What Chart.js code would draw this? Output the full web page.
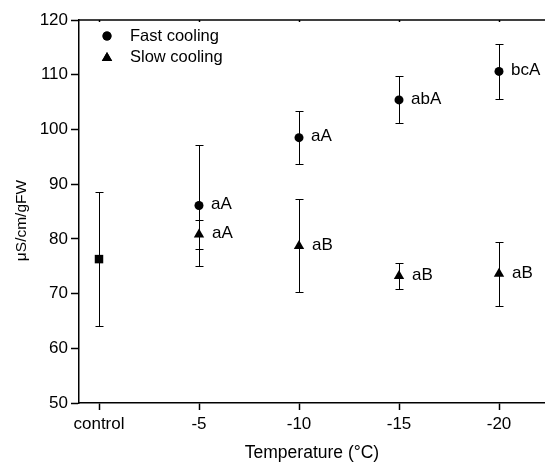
<!DOCTYPE html>
<html>
<head>
<meta charset="utf-8">
<script src="https://cdn.jsdelivr.net/npm/chart.js@4/dist/chart.umd.min.js"></script>
<style>
  html, body { margin: 0; padding: 0; background: #fff; }
</style>
</head>
<body>
<canvas id="graphCanvas" width="545" height="462"></canvas>
<script>
// data
const categories = ['control', '-5', '-10', '-15', '-20'];
const controlMean = [76.3];
const controlErr = [12.3];
const fastMean = [86.1, 98.5, 105.4, 110.6];
const fastErr = [11.1, 4.9, 4.3, 5.1];
const fastLetters = ['aA', 'aA', 'abA', 'bcA'];
const slowMean = [80.8, 78.7, 73.2, 73.6];
const slowErr = [2.7, 8.5, 2.4, 5.9];
const slowLetters = ['aA', 'aB', 'aB', 'aB'];
const yTicks = [50, 60, 70, 80, 90, 100, 110, 120];

const FONT = "'Liberation Sans', Arial, sans-serif";

// control sits at x = 0, the temperatures at 1..4
const controlPts = controlMean.map((v, i) => ({x: i, y: v}));
const fastPts = fastMean.map((v, i) => ({x: i + 1, y: v}));
const slowPts = slowMean.map((v, i) => ({x: i + 1, y: v}));

const extras = {
    id: 'extras',
    beforeDatasetsDraw(chart) {
        const ctx = chart.ctx;
        const xs = chart.scales.x, ys = chart.scales.y;
        ctx.save();
        ctx.strokeStyle = '#000';
        ctx.lineWidth = 1;
        const bar = (xv, m, e) => {
            const x = Math.round(xs.getPixelForValue(xv)) + 0.5;
            const y1 = Math.round(ys.getPixelForValue(m + e)) + 0.5;
            const y2 = Math.round(ys.getPixelForValue(m - e)) + 0.5;
            ctx.beginPath();
            ctx.moveTo(x, y1); ctx.lineTo(x, y2);
            ctx.moveTo(x - 4, y1); ctx.lineTo(x + 4, y1);
            ctx.moveTo(x - 4, y2); ctx.lineTo(x + 4, y2);
            ctx.stroke();
        };
        controlMean.forEach((m, i) => bar(i, m, controlErr[i]));
        fastMean.forEach((m, i) => bar(i + 1, m, fastErr[i]));
        slowMean.forEach((m, i) => bar(i + 1, m, slowErr[i]));
        ctx.restore();
    },
    afterDatasetsDraw(chart) {
        const ctx = chart.ctx;
        const xs = chart.scales.x, ys = chart.scales.y;
        const area = chart.chartArea;
        ctx.save();
        // top frame line with small inward ticks
        ctx.strokeStyle = '#000';
        ctx.lineWidth = 1.5;
        ctx.beginPath();
        ctx.moveTo(area.left, area.top);
        ctx.lineTo(area.right, area.top);
        categories.forEach((c, i) => {
            const x = Math.round(xs.getPixelForValue(i)) + 0.5;
            ctx.moveTo(x, area.top);
            ctx.lineTo(x, area.top + 2);
        });
        ctx.stroke();

        // significance letters
        ctx.fillStyle = '#000';
        ctx.font = '17px ' + FONT;
        ctx.textAlign = 'left';
        ctx.textBaseline = 'middle';
        fastMean.forEach((m, i) => {
            ctx.fillText(fastLetters[i], xs.getPixelForValue(i + 1) + 12, ys.getPixelForValue(m) - 1);
        });
        slowMean.forEach((m, i) => {
            ctx.fillText(slowLetters[i], xs.getPixelForValue(i + 1) + 13, ys.getPixelForValue(m) - 1);
        });

        // legend inside the plot
        const lx = area.left + 28;
        Chart.helpers.drawPoint(ctx, {pointStyle: 'circle', radius: 4.5, rotation: 0, borderWidth: 0}, lx, area.top + 16);
        ctx.fill();
        Chart.helpers.drawPoint(ctx, {pointStyle: 'triangle', radius: 6, rotation: 0, borderWidth: 0}, lx, area.top + 38);
        ctx.fill();
        ctx.font = '16.5px ' + FONT;
        ctx.fillText('Fast cooling', area.left + 51, area.top + 16);
        ctx.fillText('Slow cooling', area.left + 51, area.top + 37);

        // y axis title, a little below the plot middle as in the figure
        ctx.translate(22, (area.top + area.bottom) / 2 + 9);
        ctx.rotate(-Math.PI / 2);
        ctx.textAlign = 'center';
        ctx.font = '15.5px ' + FONT;
        ctx.fillText('μS/cm/gFW', 0, 0);
        ctx.restore();
    }
};

const ctx = document.getElementById('graphCanvas').getContext('2d');
new Chart(ctx, {
    type: 'scatter',
    data: {
        datasets: [{
            label: 'control',
            data: controlPts,
            pointStyle: 'rect',
            pointRadius: 6,
            backgroundColor: '#000',
            borderColor: '#000',
            borderWidth: 0
        }, {
            label: 'Fast cooling',
            data: fastPts,
            pointStyle: 'circle',
            pointRadius: 4.5,
            backgroundColor: '#000',
            borderColor: '#000',
            borderWidth: 0
        }, {
            label: 'Slow cooling',
            data: slowPts,
            pointStyle: 'triangle',
            pointRadius: 6,
            backgroundColor: '#000',
            borderColor: '#000',
            borderWidth: 0
        }]
    },
    options: {
        responsive: false,
        animation: false,
        layout: { autoPadding: false, padding: { left: 0, right: 0, top: 20, bottom: 0 } },
        plugins: {
            legend: { display: false },
            tooltip: { enabled: false }
        },
        scales: {
            x: {
                type: 'linear',
                min: -0.2,
                max: 4.46,
                afterBuildTicks: s => { s.ticks = categories.map((c, i) => ({ value: i })); },
                afterFit: s => { s.height = 59; },
                ticks: {
                    callback: v => categories[v],
                    autoSkip: false,
                    maxRotation: 0,
                    color: '#000',
                    padding: 4,
                    font: { family: FONT, size: 17 }
                },
                grid: { drawOnChartArea: false, tickLength: 7, tickColor: '#000', tickWidth: 1.5 },
                border: { color: '#000', width: 1.5 },
                title: {
                    display: true,
                    text: 'Temperature (°C)',
                    color: '#000',
                    font: { family: FONT, size: 17.5, lineHeight: 1 },
                    padding: { top: 0, bottom: 0 }
                }
            },
            y: {
                min: 50,
                max: 120,
                afterBuildTicks: s => { s.ticks = yTicks.map(v => ({ value: v })); },
                afterFit: s => { s.width = 79; },
                ticks: {
                    color: '#000',
                    padding: 3,
                    font: { family: FONT, size: 17 }
                },
                grid: { drawOnChartArea: false, tickLength: 8, tickColor: '#000', tickWidth: 1.5 },
                border: { color: '#000', width: 1.5 },
                title: { display: false }
            }
        }
    },
    plugins: [extras]
});
</script>
</body>
</html>
